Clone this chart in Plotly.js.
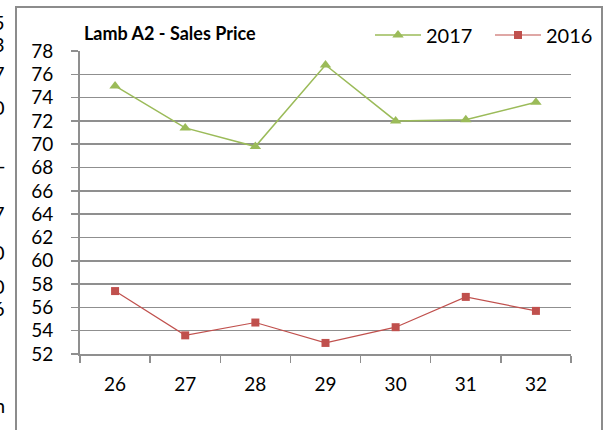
<!DOCTYPE html>
<html>
<head>
<meta charset="utf-8">
<script src="https://cdn.plot.ly/plotly-3.0.1.min.js"></script>
<style>html,body{margin:0;padding:0;background:#fff;}#chart{width:607px;height:430px;}</style>
</head>
<body>
<div id="chart"></div>
<script>
var categories = ["26", "27", "28", "29", "30", "31", "32"];
var sales2017 = [75.0, 71.4, 69.8, 76.8, 72.0, 72.1, 73.6];
var sales2016 = [57.4, 53.6, 54.7, 52.95, 54.3, 56.9, 55.7];
var yTicks = [52, 54, 56, 58, 60, 62, 64, 66, 68, 70, 72, 74, 76, 78];
var titleText = "Lamb A2 - Sales Price";
var edgeFragments = ["5", "3", "7", "0", "-", "7", "0", "0", "6", "n"];
var edgeFragmentY = [22, 44, 73, 107, 165, 213, 252, 286, 308, 405];

var W = 607, H = 430;
var L = 80, R = 571, T = 51, B = 354;
function px(x) { return (x - L) / (R - L); }
function py(y) { return (B - y) / (B - T); }

var FONT = "Lato, 'Open Sans', sans-serif";
var GRID = "#8f8f8f";

var traces = [
  {
    x: categories, y: sales2017, name: "2017", type: "scatter", mode: "lines+markers",
    line: {color: "#9BBB59", width: 1.5},
    marker: {symbol: "triangle-up", size: 10, color: "#9BBB59"}
  },
  {
    x: categories, y: sales2016, name: "2016", type: "scatter", mode: "lines+markers",
    line: {color: "#C0504D", width: 1.2},
    marker: {symbol: "square", size: 8, color: "#C0504D"}
  }
];

var annotations = [{
  text: "<b>" + titleText + "</b>", xref: "paper", yref: "paper",
  x: px(82), y: py(33), xanchor: "left", yanchor: "middle", showarrow: false,
  font: {family: FONT, size: 18, color: "#000"}
}];
for (var i = 0; i < edgeFragments.length; i++) {
  annotations.push({
    text: edgeFragments[i], xref: "paper", yref: "paper",
    x: px(7), y: py(edgeFragmentY[i]), xanchor: "right", yanchor: "middle",
    showarrow: false, font: {family: FONT, size: 20, color: "#000"}
  });
}

var layout = {
  width: W, height: H,
  margin: {l: L, r: W - R, t: T, b: H - B, pad: 0, autoexpand: false},
  paper_bgcolor: "#fff", plot_bgcolor: "#fff",
  font: {family: FONT, size: 18, color: "#000"},
  showlegend: true,
  legend: {
    orientation: "h", x: px(370), y: py(35), xanchor: "left", yanchor: "middle",
    font: {family: FONT, size: 20, color: "#000"}, bgcolor: "rgba(0,0,0,0)",
    itemwidth: 46, entrywidth: 59, entrywidthmode: "pixels", tracegroupgap: 0
  },
  xaxis: {
    type: "category", range: [-0.5, 6.5], tickson: "boundaries",
    ticks: "outside", ticklen: 7, tickwidth: 1.5, tickcolor: GRID,
    showline: true, linecolor: GRID, linewidth: 2, showgrid: false,
    zeroline: false, ticklabelstandoff: 12, fixedrange: true,
    tickfont: {family: FONT, size: 19, color: "#000"}
  },
  yaxis: {
    range: [52, 78], tickvals: yTicks, ticktext: yTicks.map(String),
    ticks: "outside", ticklen: 7, tickwidth: 1.5, tickcolor: GRID,
    showline: true, linecolor: GRID, linewidth: 2,
    showgrid: true, gridcolor: GRID, gridwidth: 1.5, zeroline: false,
    ticklabelstandoff: 14, fixedrange: true,
    tickfont: {family: FONT, size: 19, color: "#000"}
  },
  shapes: [{
    type: "rect", xref: "paper", yref: "paper",
    x0: px(16), x1: px(602), y0: py(440), y1: py(7),
    line: {color: "#8c8c8c", width: 2}, fillcolor: "rgba(0,0,0,0)", layer: "below"
  }],
  annotations: annotations
};

Plotly.newPlot("chart", traces, layout, {displayModeBar: false, staticPlot: true});
</script>
</body>
</html>
